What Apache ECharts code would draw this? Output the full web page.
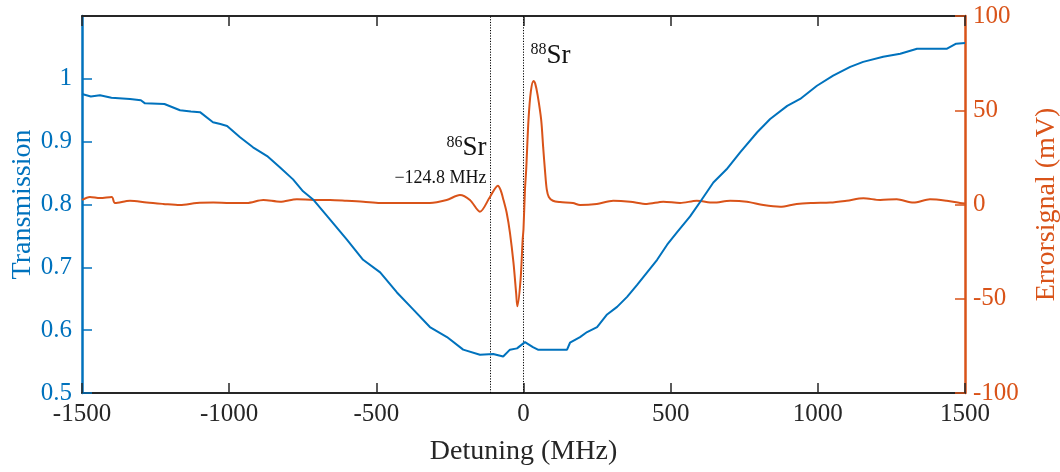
<!DOCTYPE html>
<html>
<head>
<meta charset="utf-8">
<script src="https://cdn.jsdelivr.net/npm/echarts@6/dist/echarts.min.js"></script>
<style>html,body{margin:0;padding:0;background:#fff}#c{width:1060px;height:472px}</style>
</head>
<body>
<div id="c"></div>
<script>
// Detuning (MHz) and transmission
const transDetuning = [-1500,-1470,-1439,-1400,-1337,-1300,-1286,-1220,-1167,-1130,-1099,-1055,-1030,-1007,-963,-919,-871,-827,-783,-749,-715,-657,-600,-545,-487,-430,-375,-318,-260,-205,-148,-103,-69,-46,-22,5,32,49,124,148,158,192,216,250,284,318,352,386,420,454,488,522,566,600,645,690,736,794,838,896,940,997,1052,1110,1154,1222,1280,1337,1439,1470,1500];
const transmission = [0.976,0.972,0.974,0.970,0.968,0.966,0.961,0.960,0.950,0.948,0.947,0.931,0.928,0.925,0.907,0.891,0.877,0.859,0.840,0.821,0.808,0.776,0.744,0.712,0.692,0.660,0.633,0.605,0.589,0.569,0.561,0.562,0.558,0.569,0.571,0.581,0.573,0.569,0.569,0.569,0.580,0.589,0.597,0.605,0.625,0.637,0.653,0.672,0.692,0.712,0.736,0.756,0.781,0.804,0.835,0.856,0.883,0.915,0.936,0.957,0.968,0.989,1.005,1.019,1.027,1.035,1.040,1.048,1.048,1.056,1.057];
// Detuning (MHz) and error signal (mV)
const errDetuning = [-1500,-1473,-1439,-1399,-1388,-1337,-1280,-1224,-1167,-1110,-1054,-997,-940,-884,-827,-770,-714,-657,-601,-544,-487,-431,-374,-318,-261,-216,-182,-148,-114,-87,-78,-68,-57,-46,-34,-25,-21,-10,-3,0,5,9,17,25,34,40,48,60,67,73,79,86,100,124,168,192,249,305,362,419,475,532,589,645,702,759,815,872,928,985,1042,1098,1155,1212,1268,1325,1381,1438,1483,1500];
const errSignal = [2.4,4,3.4,4,0.8,2,1,0.3,-0.3,0.8,1,0.8,0.8,2.4,1.5,2.8,2.4,2.4,2,1.5,0.8,0.8,0.8,0.8,2.4,5,2.4,-3.8,4,10,7.7,2.4,-4.5,-15,-31,-47,-54,-40,-19,-13,8,18,45,60,65.5,64,58,45,30,18,8,4,2,1.3,0.8,-0.3,0.3,2,1.5,0.3,1.5,0.8,2,1,2,1.5,-0.3,-1.2,0.3,0.8,1,2,3.3,2.4,2.8,1,2.8,2,0.8,0.5];
const xTicks = {min: -1500, max: 1500, interval: 500};
const leftTicks = {min: 0.5, max: 1.1, interval: 0.1};
const rightTicks = {min: -100, max: 100, interval: 50};
const isotopeLines = [-112, 0];

const FONT = 'Liberation Serif';
const BLUE = '#0072BD', ORANGE = '#D95319', DARK = '#262626';
const chart = echarts.init(document.getElementById('c'), null, {renderer: 'canvas'});
const tickStyle = (c) => ({show: true, inside: true, length: 10, lineStyle: {color: c, width: 1.5}});

chart.setOption({
  animation: false,
  backgroundColor: '#fff',
  grid: {left: 82, right: 95, top: 16, bottom: 79, containLabel: false, outerBoundsMode: 'none'},
  xAxis: [{
    type: 'value', position: 'bottom', min: xTicks.min, max: xTicks.max, interval: xTicks.interval,
    axisLine: {show: true, onZero: false, lineStyle: {color: DARK, width: 2}},
    axisTick: tickStyle(DARK), splitLine: {show: false},
    axisLabel: {color: DARK, fontFamily: FONT, fontSize: 25, margin: 9, formatter: v => String(v)},
    name: 'Detuning (MHz)', nameLocation: 'middle', nameGap: 45, nameMoveOverlap: false,
    nameTextStyle: {color: DARK, fontFamily: FONT, fontSize: 28}
  }, {
    type: 'value', position: 'top', min: xTicks.min, max: xTicks.max, interval: xTicks.interval,
    axisLine: {show: true, onZero: false, lineStyle: {color: DARK, width: 2}},
    axisTick: tickStyle(DARK), axisLabel: {show: false}, splitLine: {show: false}
  }],
  yAxis: [{
    type: 'value', position: 'left', min: leftTicks.min, max: leftTicks.max, interval: leftTicks.interval,
    axisLine: {show: true, onZero: false, lineStyle: {color: BLUE, width: 2.5}},
    axisTick: tickStyle(BLUE), splitLine: {show: false},
    axisLabel: {color: BLUE, fontFamily: FONT, fontSize: 25, margin: 10, showMaxLabel: false,
      formatter: v => (Math.abs(v - 1) < 1e-9 ? '1' : v.toFixed(1))},
    name: 'Transmission', nameLocation: 'middle', nameGap: 45, nameRotate: 90, nameMoveOverlap: false,
    nameTextStyle: {color: BLUE, fontFamily: FONT, fontSize: 28}
  }, {
    type: 'value', position: 'right', min: rightTicks.min, max: rightTicks.max, interval: rightTicks.interval,
    axisLine: {show: true, onZero: false, lineStyle: {color: ORANGE, width: 2.5}},
    axisTick: tickStyle(ORANGE), splitLine: {show: false},
    axisLabel: {color: ORANGE, fontFamily: FONT, fontSize: 25, margin: 8, formatter: v => String(v)},
    name: 'Errorsignal (mV)', nameLocation: 'middle', nameGap: 68, nameRotate: 90, nameMoveOverlap: false,
    nameTextStyle: {color: ORANGE, fontFamily: FONT, fontSize: 28}
  }],
  series: [{
    type: 'line', name: 'Errorsignal', xAxisIndex: 0, yAxisIndex: 1, z: 2,
    data: errDetuning.map((x, i) => [x, errSignal[i]]),
    smooth: 0.3,
    showSymbol: false, symbol: 'none', lineStyle: {color: ORANGE, width: 2}, itemStyle: {color: ORANGE},
    markLine: {
      silent: true, symbol: 'none', animation: false, z: 1,
      lineStyle: {color: '#000', width: 1, type: [1.2, 1.5]},
      label: {show: false},
      data: isotopeLines.map(x => ({xAxis: x}))
    },
    markPoint: {
      silent: true, symbol: 'circle', symbolSize: 0, animation: false,
      data: [
        {coord: [isotopeLines[0], 30], label: {show: true, position: 'left', distance: 4,
          formatter: '{sup|86}{main|Sr}',
          rich: {sup: {fontFamily: FONT, fontSize: 16, color: '#111', verticalAlign: 'top', padding: [0,0,8,0]},
                 main: {fontFamily: FONT, fontSize: 27, color: '#111'}}}},
        {coord: [isotopeLines[0], 14], label: {show: true, position: 'left', distance: 4,
          formatter: '\u2212124.8 MHz', fontFamily: FONT, fontSize: 18, color: '#111'}},
        {coord: [isotopeLines[1], 79], label: {show: true, position: 'right', distance: 7,
          formatter: '{sup|88}{main|Sr}',
          rich: {sup: {fontFamily: FONT, fontSize: 16, color: '#111', verticalAlign: 'top', padding: [0,0,8,0]},
                 main: {fontFamily: FONT, fontSize: 27, color: '#111'}}}}
      ]
    }
  }, {
    type: 'line', name: 'Transmission', xAxisIndex: 0, yAxisIndex: 0, z: 3,
    data: transDetuning.map((x, i) => [x, transmission[i]]),
    showSymbol: false, symbol: 'none', lineStyle: {color: BLUE, width: 2}, itemStyle: {color: BLUE}
  }]
});
</script>
</body>
</html>
